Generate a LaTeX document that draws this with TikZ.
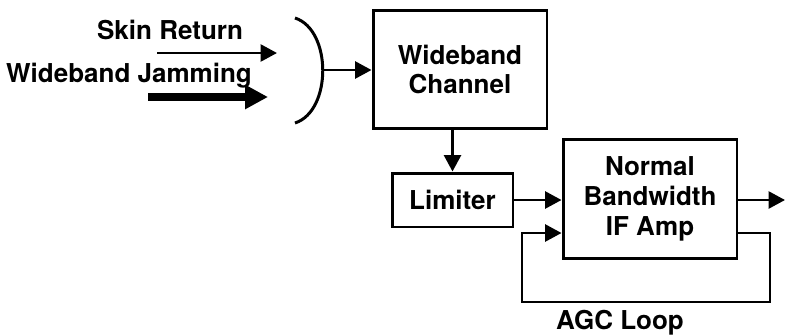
\documentclass[tikz,border=0pt]{standalone}
\usepackage{fontspec}
\setmainfont{TeX Gyre Heros}
\usepackage{tikz}
\usetikzlibrary{arrows.meta, positioning, calc}

\begin{document}
\begin{tikzpicture}[
        x=0.02cm, y=-0.02cm,
        bloc/.style={rectangle, draw=black, line width=1.7pt, minimum height=2.38cm,
                     minimum width=3.48cm, align=center, inner sep=0pt,
                     font=\fontsize{14.8}{17}\selectfont\bfseries},
        etiq/.style={anchor=base, inner sep=0pt, font=\fontsize{14.8}{17}\selectfont\bfseries},
        arrow/.style={-{Triangle[length=0.33cm, width=0.34cm]}, line width=1.6pt, black},
        grosse/.style={-{Triangle[length=0.46cm, width=0.46cm]}, line width=4pt, black},
    ]
        \useasboundingbox (0,0) rectangle (786,335);

        % Blocs
        \node[bloc] (wc) at (460,69.5) {Wideband\\Channel};
        \node[bloc, minimum width=2.42cm, minimum height=1.08cm] (lim) at (452.5,200)
            {Limiter};
        \node[bloc] (nb) at (650,199) {Normal\\Bandwidth\\IF Amp};

        % Signaux en entree
        \node[etiq] (skin) at (170,39) {Skin Return};
        \node[etiq] (jam) at (129,82) {Wideband Jamming};
        \coordinate (skin-a) at (157,53);
        \coordinate (skin-b) at (277,53);
        \coordinate (jam-a) at (148,97);
        \coordinate (jam-b) at (268,97);
        \draw[arrow] (skin-a) -- (skin-b);
        \draw[grosse] (jam-a) -- (jam-b);

        % Antenne
        \coordinate (bracket) at (322.5,70);
        \draw[line width=1.7pt] (295,18) .. controls (332,30) and (332,111) .. (295,123);
        \draw[arrow] (bracket) -- (bracket -| wc.west);

        % Liens
        \draw[arrow] (wc.south -| lim.north) -- (lim.north);
        \draw[arrow] (lim.east) -- (lim.east -| nb.west);
        \coordinate (sortie) at (785,200);
        \draw[arrow] (sortie -| nb.east) -- (sortie);

        % Boucle AGC
        \coordinate (agc-e) at (770,233);
        \coordinate (agc-w) at (522,302);
        \draw[arrow] (agc-e -| nb.east) -- (agc-e) |- (agc-w) |- (agc-e -| nb.west);
        \node[etiq] (agc) at (620,329.5) {AGC Loop};
    \end{tikzpicture}
\end{document}
